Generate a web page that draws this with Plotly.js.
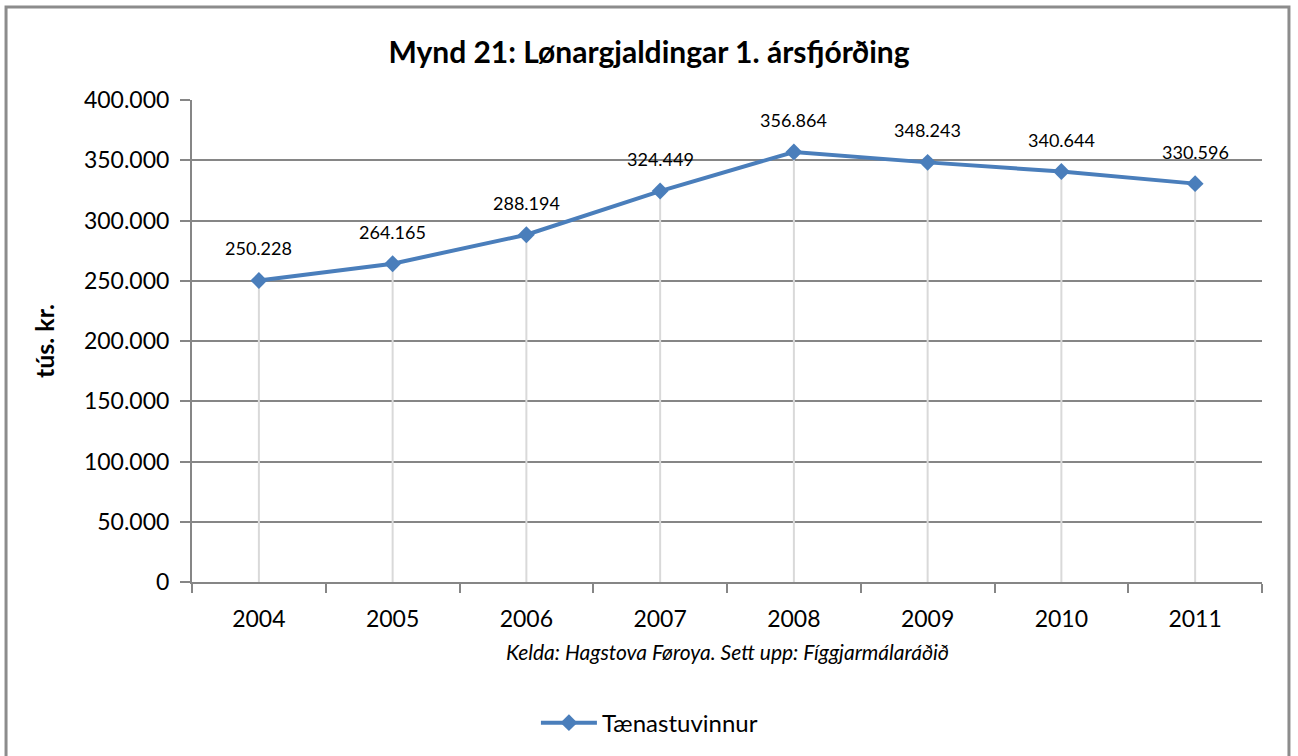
<!DOCTYPE html>
<html>
<head>
<meta charset="utf-8">
<script src="https://cdn.plot.ly/plotly-3.0.1.min.js"></script>
<style>html,body{margin:0;padding:0;background:#fff;}#chart{width:1298px;height:756px;}</style>
</head>
<body>
<div id="chart"></div>
<script>
const years = ['2004','2005','2006','2007','2008','2009','2010','2011'];
const values = [250228, 264165, 288194, 324449, 356864, 348243, 340644, 330596];
const seriesName = 'Tænastuvinnur';
const titleText = 'Mynd 21: Lønargjaldingar 1. ársfjórðing';
const yTitle = 'tús. kr.';
const sourceText = 'Kelda: Hagstova Føroya. Sett upp: Fíggjarmálaráðið';
const yTickVals = [0, 50000, 100000, 150000, 200000, 250000, 300000, 350000, 400000];

function fmt(v){ return String(v).replace(/\B(?=(\d{3})+(?!\d))/g, '.'); }

const font = 'Lato, "Open Sans", "Noto Sans", sans-serif';

const drop = {
  x: years, y: values, type: 'scatter', mode: 'markers',
  marker: {size: 1, color: 'rgba(0,0,0,0)'},
  showlegend: false, hoverinfo: 'skip',
  error_y: {type: 'data', symmetric: false, array: values.map(() => 0), arrayminus: values,
            color: '#D9D9D9', thickness: 2, width: 0}
};
const line = {
  x: years, y: values, type: 'scatter', mode: 'lines+markers', name: seriesName,
  line: {color: '#4A7EBB', width: 4},
  marker: {symbol: 'diamond', size: 13, color: '#4A7EBB'}
};

const annotations = years.map((yr, i) => ({
  x: i, y: values[i], xref: 'x', yref: 'y', text: fmt(values[i]),
  showarrow: false, yshift: 32, font: {family: font, size: 18, color: '#000'}
}));
annotations.push({
  x: 0.5, y: -0.145, xref: 'paper', yref: 'paper', yanchor: 'middle', xanchor: 'center',
  text: '<i>' + sourceText + '</i>',
  showarrow: false, font: {family: font, size: 21, color: '#000'}
});

const layout = {
  width: 1298, height: 756,
  paper_bgcolor: '#fff', plot_bgcolor: '#fff',
  separators: ',.',
  margin: {l: 192, r: 36, t: 100, b: 173},
  title: {text: '<b>' + titleText + '</b>', x: 0.5, xanchor: 'center', y: 0.931, yanchor: 'middle',
          xref: 'container', font: {family: font, size: 30, color: '#000'}},
  font: {family: font, color: '#000'},
  xaxis: {
    type: 'category', range: [-0.5, 7.5], tickson: 'boundaries',
    ticks: 'outside', ticklen: 9, tickcolor: '#868686', tickwidth: 2,
    showline: true, linecolor: '#868686', linewidth: 2, showgrid: false,
    ticklabelstandoff: 15,
    tickfont: {family: font, size: 23, color: '#000'}, fixedrange: true
  },
  yaxis: {
    range: [0, 400000], tickvals: yTickVals, tickformat: ',d',
    ticks: 'outside', ticklen: 10, tickcolor: '#868686', tickwidth: 2,
    showline: true, linecolor: '#868686', linewidth: 2,
    showgrid: true, gridcolor: '#868686', gridwidth: 2, zeroline: false,
    ticklabelstandoff: 6,
    tickfont: {family: font, size: 23, color: '#000'},
    title: {text: '<b>' + yTitle + '</b>', font: {family: font, size: 25, color: '#000'}, standoff: 22},
    fixedrange: true
  },
  showlegend: true,
  legend: {orientation: 'h', x: 0.4275, xanchor: 'center', y: -0.29, yanchor: 'middle',
           itemwidth: 56, font: {family: font, size: 24, color: '#000'}},
  annotations: annotations,
  shapes: [{type: 'rect', xref: 'paper', yref: 'paper', x0: -0.1738, x1: 1.0252, y0: -0.40, y1: 1.193,
            line: {color: '#8C8C8C', width: 3}, fillcolor: 'rgba(0,0,0,0)', layer: 'below'}]
};

Plotly.newPlot('chart', [drop, line], layout, {displayModeBar: false, staticPlot: true});
</script>
</body>
</html>
